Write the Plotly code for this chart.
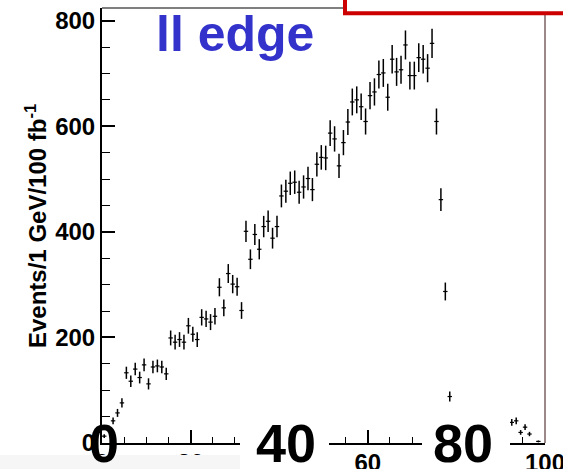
import numpy as np
import plotly.graph_objects as go

# ---- data (1 GeV bins, 0-100 GeV) ----
bin_centers = [i + 0.5 for i in range(100)]
counts = [
    13, 28, 42, 57, 76, 133, 117, 140, 124, 148,
    112, 144, 146, 144, 131, 199, 191, 196, 191, 222,
    206, 196, 238, 235, 229, 240, 295, 256, 321, 301,
    296, 251, 401, 348, 395, 367, 410, 420, 388, 410,
    468, 477, 492, 494, 475, 485, 501, 480, 528, 541,
    540, 587, 576, 525, 569, 608, 646, 650, 637, 609,
    658, 665, 698, 701, 655, 727, 703, 707, 754, 696,
    696, 730, 727, 710, 757, 609, 461, 287, 88, 40,
    35, 38, 33, 36, 30, 34, 31, 35, 29, 33,
    30, 32, 39, 42, 20, 30, 17, 0, 3, 0,
]
x_ticks = [0, 20, 40, 60, 80, 100]
y_ticks = [0, 200, 400, 600, 800]
big_labels = ["0", "40", "80"]
big_label_pos = [0, 40, 80]

xs = [x for x, c in zip(bin_centers, counts) if c > 0]
ys = [c for c in counts if c > 0]
errs = [float(np.sqrt(c)) for c in ys]

# ---- geometry helpers (pixel -> paper) ----
L, R, T, B = 102, 545, 8, 443
W, H = 563, 469
def px(x):
    return (x - L) / (R - L)
def py(y):
    return (B - y) / (B - T)

fig = go.Figure()
fig.add_trace(go.Scatter(
    x=xs, y=ys, mode="markers",
    marker=dict(size=1, color="black"),
    error_y=dict(type="data", array=errs, color="black", thickness=1.5, width=0),
    error_x=dict(type="constant", value=0.5, color="black", thickness=1.2, width=0),
    showlegend=False, hoverinfo="skip",
))

bold_x = dict(family="Liberation Sans, Arial, sans-serif", size=24, color="black", weight="bold")
bold_y = dict(family="Liberation Sans, Arial, sans-serif", size=24, color="black", weight="bold")

fig.update_layout(
    width=W, height=H,
    margin=dict(l=L, r=W - R, t=T, b=H - B, pad=0, autoexpand=False),
    paper_bgcolor="white", plot_bgcolor="white",
    xaxis=dict(range=[0, 100], tickvals=x_ticks, ticktext=[str(v) for v in x_ticks],
               ticks="inside", ticklen=13, tickwidth=1.5, tickcolor="black",
               minor=dict(dtick=5, ticks="inside", ticklen=6, tickwidth=1.2, tickcolor="black"),
               showline=True, linecolor="black", linewidth=1.6, automargin=False,
               ticklabeloverflow="allow", ticklabelstandoff=-3,
               showgrid=False, zeroline=False, tickfont=bold_x),
    yaxis=dict(range=[0, 824], tickvals=y_ticks, automargin=False,
               ticks="inside", ticklen=13, tickwidth=1.5, tickcolor="black",
               minor=dict(dtick=50, ticks="inside", ticklen=8, tickwidth=1.2, tickcolor="black"),
               showline=True, linecolor="black", linewidth=2,
               ticklabeloverflow="allow",
               showgrid=False, zeroline=False, tickfont=bold_y),
)

shapes = []
# frame top and right
shapes.append(dict(type="line", xref="paper", yref="paper", x0=px(L), x1=px(346), y0=1, y1=1,
                   line=dict(color="#555555", width=1.5), layer="above"))
shapes.append(dict(type="line", xref="paper", yref="paper", x0=1, x1=1, y0=0, y1=py(14),
                   line=dict(color="#7a6262", width=1.5), layer="above"))
# red box top right
shapes.append(dict(type="rect", xref="paper", yref="paper", x0=px(345), x1=px(600),
                   y0=py(13.3), y1=py(-10), line=dict(color="#cc0000", width=4),
                   fillcolor="white", layer="above"))
# light strip at bottom-left
shapes.append(dict(type="rect", xref="paper", yref="paper", x0=px(-5), x1=px(240),
                   y0=py(455), y1=py(475), line=dict(width=0),
                   fillcolor="#f6f6f6", layer="above"))
# white boxes behind the big numbers
for x0, x1 in [(240, 329), (422, 510)]:
    shapes.append(dict(type="rect", xref="paper", yref="paper", x0=px(x0), x1=px(x1),
                       y0=py(413), y1=py(480), line=dict(width=0),
                       fillcolor="white", layer="above"))
fig.update_layout(shapes=shapes)

ann = []
# big numbers
for lab, pos in zip(big_labels, big_label_pos):
    ann.append(dict(text=lab, xref="x", yref="paper", x=pos + (1.5 if pos else 0.4), y=py(443),
                    xanchor="center", yanchor="middle", showarrow=False,
                    font=dict(family="Liberation Sans, Arial, sans-serif", size=54,
                              color="black", weight="bold")))
# title text
ann.append(dict(text="ll edge", xref="paper", yref="paper", x=px(235), y=py(34),
                xanchor="center", yanchor="middle", showarrow=False,
                font=dict(family="Liberation Sans, Arial, sans-serif", size=50,
                          color="#3333cc", weight="bold")))
# y axis title
ann.append(dict(text="Events/1 GeV/100 fb<sup>-1</sup>", xref="paper", yref="paper",
                x=px(36), y=py(226), xanchor="center", yanchor="middle", textangle=-90,
                showarrow=False,
                font=dict(family="Liberation Sans, Arial, sans-serif", size=24,
                          color="black", weight="bold")))
fig.update_layout(annotations=ann)

fig.write_html("out.html")
